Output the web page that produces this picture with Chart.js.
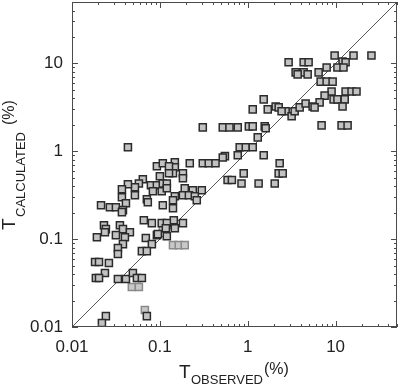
<!DOCTYPE html>
<html><head><meta charset="utf-8">
<script src="https://cdn.jsdelivr.net/npm/chart.js@4/dist/chart.umd.min.js"></script>
<style>html,body{margin:0;padding:0;background:#fff;}</style>
</head><body>
<canvas id="c" width="400" height="390"></canvas>
<script>
// ---- data ----
const tObserved = [
  9.75,16.0,25.6,2.92,4.33,4.93,12.0,13.0,3.51,4.33,4.81,3.70,6.41,7.91,10.5,12.3,6.76,7.91,9.25,9.0,
  13.0,15.2,17.3,7.5,6.58,9.49,10.5,12.7,12.0,1.52,1.14,1.69,2.08,2.25,2.70,3.16,3.42,3.90,4.56,5.48,
  5.77,2.43,6.93,11.7,13.7,0.308,0.52,0.62,0.77,1.03,1.14,1.56,1.60,1.30,0.81,0.95,1.14,0.55,0.52,0.77,
  1.52,0.308,0.36,0.43,2.31,0.90,2.25,2.50,0.59,0.66,0.85,1.33,2.03,0.30,0.219,0.148,0.148,0.141,0.183,0.183,
  0.192,0.237,0.148,0.183,0.214,0.25,0.263,0.141,0.144,0.183,0.148,0.0433,0.0925,0.108,0.127,0.10,0.127,0.064,0.0577,0.052,
  0.0433,0.037,0.0791,0.0925,0.108,0.12,0.0833,0.105,0.12,0.052,0.037,0.0411,0.0711,0.0729,0.108,0.0214,0.027,0.0316,0.038,0.037,
  0.0657,0.0811,0.105,0.12,0.0231,0.0243,0.0351,0.038,0.0456,0.0316,0.0192,0.0237,0.04,0.0692,0.0925,0.12,0.117,0.038,0.0333,0.0333,
  0.0811,0.0624,0.0711,0.0183,0.0203,0.0263,0.0237,0.0187,0.0203,0.0333,0.0411,0.0493,0.0548,0.0624,0.0711,0.0243,0.0219,0.0949,0.141
];
const tCalculated = [
  12.3,12.3,12.3,10.3,10.3,10.3,10.5,10.3,7.9,7.9,7.5,7.5,7.9,9.0,9.0,9.0,6.2,6.2,6.2,4.8,
  4.8,4.8,4.8,4.3,3.6,3.9,3.9,3.9,3.24,3.9,3.0,3.0,3.24,3.16,2.85,2.5,2.85,3.16,3.5,3.24,
  3.16,2.85,1.97,1.97,1.97,1.87,1.87,1.87,1.87,1.92,1.92,1.92,1.83,1.44,1.11,1.11,1.11,0.88,0.85,0.90,
  0.90,0.73,0.73,0.73,0.73,0.56,0.56,0.56,0.47,0.47,0.43,0.43,0.43,0.36,0.73,0.75,0.658,0.562,0.562,0.493,
  0.38,0.36,0.308,0.316,0.316,0.308,0.277,0.225,0.164,0.152,0.133,1.11,0.676,0.73,0.676,0.52,0.562,0.48,0.43,0.39,
  0.422,0.37,0.411,0.411,0.43,0.43,0.351,0.351,0.38,0.316,0.30,0.256,0.285,0.263,0.243,0.243,0.231,0.231,0.214,0.203,
  0.164,0.152,0.152,0.152,0.144,0.13,0.144,0.13,0.12,0.111,0.105,0.12,0.105,0.103,0.111,0.108,0.133,0.0878,0.0791,0.0676,
  0.0878,0.0731,0.0731,0.0548,0.0548,0.0534,0.0411,0.0361,0.0361,0.0351,0.0351,0.0411,0.0361,0.0361,0.0133,0.0133,0.0111,0.114,0.277
];
const tObservedLight   = [0.141, 0.164, 0.192, 0.048, 0.0577, 0.0675, 0.108];
const tCalculatedLight = [0.0855, 0.0855, 0.0855, 0.0285, 0.0285, 0.0156, 0.137];
const tickLabels = [0.01, 0.1, 1, 10];
const axisRange = [0.01, 50];
const identityLine = [0.01, 50];

// ---- build datasets ----
const mainPts = tObserved.map((v,i)=>({x:v, y:tCalculated[i]}));
const lightPts = tObservedLight.map((v,i)=>({x:v, y:tCalculatedLight[i]}));
const linePts = identityLine.map(v=>({x:v, y:v}));

const FONT = '"Liberation Sans", Arial, sans-serif';

function tickCb(value){
  const hit = tickLabels.find(t => Math.abs(Math.log10(value) - Math.log10(t)) < 1e-6);
  return hit !== undefined ? String(hit) : '';
}
function zeroPad(s){ s.paddingLeft = 0; s.paddingRight = 0; s.paddingTop = 0; s.paddingBottom = 0; }

const framePlugin = {
  id: 'frame',
  afterDatasetsDraw(chart){
    const {ctx, chartArea:a, scales:{x, y}} = chart;
    ctx.save();
    ctx.strokeStyle = '#4a4a4a';
    ctx.lineWidth = 1;
    ctx.strokeRect(a.left + 0.5, a.top + 0.5, a.right - a.left - 1, a.bottom - a.top - 1);
    ctx.beginPath();
    for (let d = axisRange[0]; d < axisRange[1]; d *= 10) {
      for (let k = 1; k <= 9; k++) {
        const v = k * d;
        if (v > axisRange[1] * 1.0001) break;
        const len = k === 1 ? 6 : 3;
        const px = Math.round(x.getPixelForValue(v)) + 0.5;
        ctx.moveTo(px, a.bottom); ctx.lineTo(px, a.bottom - len);
        ctx.moveTo(px, a.top); ctx.lineTo(px, a.top + len);
        const py = Math.round(y.getPixelForValue(v)) + 0.5;
        ctx.moveTo(a.left, py); ctx.lineTo(a.left + len, py);
        ctx.moveTo(a.right, py); ctx.lineTo(a.right - len, py);
      }
    }
    ctx.stroke();
    ctx.restore();
  },
  afterDraw(chart){
    const ctx = chart.ctx;
    ctx.save();
    ctx.fillStyle = '#222';
    ctx.textBaseline = 'alphabetic';
    ctx.textAlign = 'left';
    // x title
    ctx.font = '19px ' + FONT;
    ctx.fillText('T', 179, 378);
    ctx.font = '13px ' + FONT;
    ctx.fillText('OBSERVED', 191, 384);
    ctx.font = '16px ' + FONT;
    ctx.fillText('(%)', 264, 374);
    // y title (rotated)
    ctx.rotate(-Math.PI / 2);
    ctx.font = '19px ' + FONT;
    ctx.fillText('T', -230, 15);
    ctx.font = '13px ' + FONT;
    ctx.fillText('CALCULATED', -217, 25);
    ctx.font = '16px ' + FONT;
    ctx.fillText('(%)', -125, 14);
    ctx.restore();
  }
};

new Chart(document.getElementById('c'), {
  type: 'scatter',
  data: {
    datasets: [
      { data: mainPts, pointStyle: 'rect', pointRadius: 5, pointHoverRadius: 5,
        backgroundColor: '#c2c2c2', borderColor: '#2b2b2b', borderWidth: 1.5 },
      { data: lightPts, pointStyle: 'rect', pointRadius: 5, pointHoverRadius: 5,
        backgroundColor: '#c8c8c8', borderColor: '#8a8a8a', borderWidth: 1.5 },
      { type: 'line', data: linePts, borderColor: '#555', borderWidth: 1,
        pointRadius: 0, fill: false, tension: 0 }
    ]
  },
  options: {
    responsive: false,
    animation: false,
    devicePixelRatio: 1,
    layout: { autoPadding: false, padding: { left: 0, right: 3, top: 2, bottom: 0 } },
    plugins: { legend: { display: false }, tooltip: { enabled: false } },
    scales: {
      x: {
        type: 'logarithmic', min: axisRange[0], max: axisRange[1],
        grid: { display: false, drawTicks: false },
        border: { display: false },
        ticks: { callback: tickCb, autoSkip: false, maxRotation: 0, padding: 10,
                 color: '#222', font: { size: 17, family: FONT } },
        afterFit(s){ s.height = 63; zeroPad(s); }
      },
      y: {
        type: 'logarithmic', min: axisRange[0], max: axisRange[1],
        grid: { display: false, drawTicks: false },
        border: { display: false },
        ticks: { callback: tickCb, autoSkip: false, padding: 9,
                 color: '#222', font: { size: 17, family: FONT } },
        afterFit(s){ s.width = 72; zeroPad(s); }
      }
    }
  },
  plugins: [framePlugin]
});
</script>
</body></html>
